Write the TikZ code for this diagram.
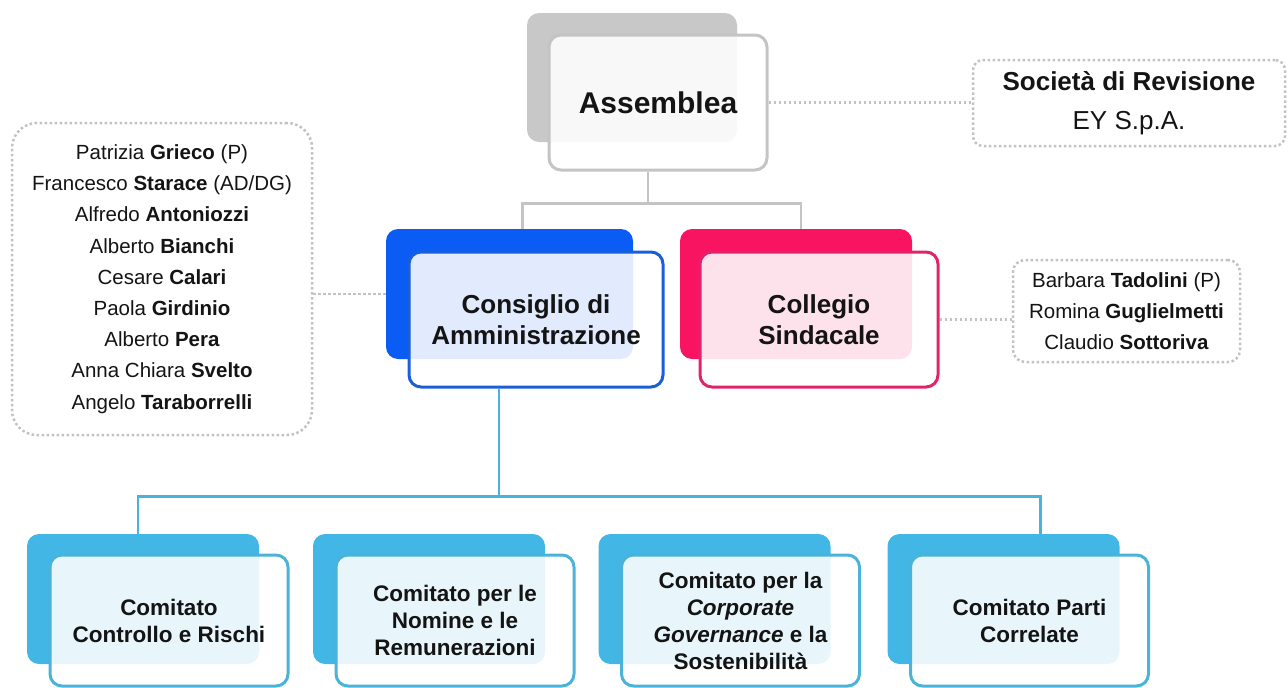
\documentclass[tikz,border=0pt]{standalone}
\usepackage{fontspec}
\setmainfont{Liberation Sans}
\definecolor{asmgray}{HTML}{C8C8C8}
\definecolor{asmline}{HTML}{C4C4C4}
\definecolor{cdablue}{HTML}{0B5CF5}
\definecolor{cdaline}{HTML}{1B5FD8}
\definecolor{cspink}{HTML}{F91462}
\definecolor{csline}{HTML}{E0246A}
\definecolor{comblue}{HTML}{42B7E5}
\definecolor{comline}{HTML}{4BB3D9}
\definecolor{dotgray}{HTML}{C2C2C2}
\definecolor{inktext}{HTML}{141414}

\begin{document}
\begin{tikzpicture}[
    x=1pt, y=-1pt,
    backbox/.style={rectangle, rounded corners=12pt, fill=#1, inner sep=0pt},
    frontbox/.style={rectangle, rounded corners=12pt, draw=#1, line width=3pt, fill=white,
        fill opacity=0.88, text opacity=1, text=inktext, align=center, inner sep=0pt},
    list/.style={rectangle, draw=dotgray, line width=2.5pt, dash pattern=on 2.5pt off 2.5pt,
        text=inktext, align=center, inner sep=0pt},
    link/.style={line width=2.5pt, draw=#1},
    dots/.style={draw=dotgray, line width=2.5pt, dash pattern=on 2.5pt off 2.5pt}
]
\useasboundingbox (0,0) rectangle (1288,688);

% Nodes
\node[backbox=asmgray, minimum width=210pt, minimum height=129pt] (assB) at (632,77.5) {};
\node[frontbox=asmline, minimum width=218pt, minimum height=135pt,
      font=\fontsize{30}{34}\selectfont\bfseries] (ass) at (658,102.5) {Assemblea};

\node[backbox=cdablue, minimum width=247pt, minimum height=130pt] (cdaB) at (509.5,294) {};
\node[frontbox=cdaline, minimum width=254pt, minimum height=135pt,
      font=\fontsize{26}{31}\selectfont\bfseries] (cda) at (536,319.5) {Consiglio di\\Amministrazione};

\node[backbox=cspink, minimum width=232pt, minimum height=130pt] (csB) at (796,294) {};
\node[frontbox=csline, minimum width=238pt, minimum height=135pt,
      font=\fontsize{26}{31}\selectfont\bfseries] (cs) at (819,319.5) {Collegio\\Sindacale};

\foreach \cx/\nm/\txt in {169/c1/{Comitato\\Controllo e Rischi},
                          455/c2/{Comitato per le\\Nomine e le\\Remunerazioni},
                          740.5/c3/{Comitato per la\\\textit{Corporate}\\\textit{Governance} e la\\Sostenibilità},
                          1029.5/c4/{Comitato Parti\\Correlate}} {
  \node[backbox=comblue, minimum width=232pt, minimum height=130pt] (\nm-b) at (\cx-26,599) {};
  \node[frontbox=comline, minimum width=238pt, minimum height=131pt,
        font=\fontsize{22.5}{27}\selectfont\bfseries] (\nm) at (\cx,620.5) {\txt};
}

% Lists
\node[list, rounded corners=25pt, minimum width=300pt, minimum height=312pt,
      font=\fontsize{20.5}{31.2}\selectfont] (members) at (162,279)
  {Patrizia \textbf{Grieco} (P)\\Francesco \textbf{Starace} (AD/DG)\\Alfredo \textbf{Antoniozzi}\\
   Alberto \textbf{Bianchi}\\Cesare \textbf{Calari}\\Paola \textbf{Girdinio}\\Alberto \textbf{Pera}\\
   Anna Chiara \textbf{Svelto}\\Angelo \textbf{Taraborrelli}};
\node[list, rounded corners=12pt, minimum width=227pt, minimum height=102pt,
      font=\fontsize{20.5}{31}\selectfont] (auditors) at (1126.5,311)
  {Barbara \textbf{Tadolini} (P)\\Romina \textbf{Guglielmetti}\\Claudio \textbf{Sottoriva}};
\node[list, rounded corners=10pt, minimum width=312pt, minimum height=86pt,
      font=\fontsize{26}{39}\selectfont] (rev) at (1129,103)
  {\textbf{Società di Revisione}\\EY S.p.A.};

% Connectors
\draw[link=asmline] ([xshift=-10pt]ass.south) -- ++(0,32) coordinate (asmsplit);
\draw[link=asmline] (asmsplit) -| ([xshift=13pt]cdaB.north);
\draw[link=asmline] (asmsplit) -| ([xshift=5pt]csB.north);

\draw[link=comline] ([xshift=-37pt]cda.south) -- ++(0,108) coordinate (comsplit);
\draw[link=comline] (comsplit) -| ([xshift=-5pt]c1-b.north);
\draw[link=comline] (comsplit) -| ([xshift=37pt]c4-b.north);

% Dotted links
\draw[dots] (cdaB.west) -- (cdaB.west -| members.east);
\draw[dots] (cs.east) -- (cs.east -| auditors.west);
\draw[dots] (ass.east) -- (ass.east -| rev.west);

\end{tikzpicture}
\end{document}
